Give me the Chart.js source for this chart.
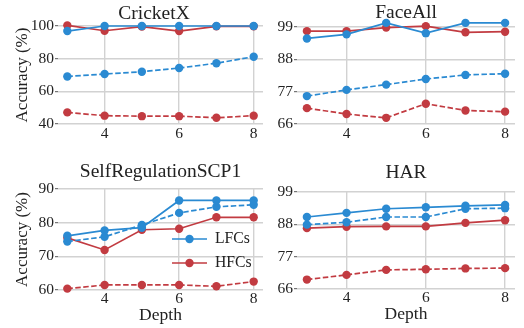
<!DOCTYPE html>
<html><head><meta charset="utf-8">
<script src="https://cdn.jsdelivr.net/npm/chart.js@4/dist/chart.umd.min.js"></script>
<style>
html,body{margin:0;padding:0;background:#fff;}
#wrap{position:relative;width:524px;height:328px;overflow:hidden;}
canvas{position:absolute;left:0;top:0;}
</style></head><body>
<div id="wrap">
<canvas id="c1" width="524" height="328"></canvas>
<canvas id="c2" width="524" height="328"></canvas>
<canvas id="c3" width="524" height="328"></canvas>
<canvas id="c4" width="524" height="328"></canvas>
</div>
<script>
// ---- data ----
const depths = [3, 4, 5, 6, 7, 8];
const xTicks = [4, 6, 8];
const panelTitles = ['CricketX', 'FaceAll', 'SelfRegulationSCP1', 'HAR'];
const seriesLabels = ['LFCs', 'HFCs'];

const cricketLFC       = [96.9, 100, 100, 100, 100, 100];
const cricketLFCdashed = [69.1, 70.6, 72.0, 74.3, 77.2, 81.2];
const cricketHFC       = [100.4, 97.1, 99.6, 96.9, 99.8, 99.8];
const cricketHFCdashed = [47.1, 45.1, 44.8, 44.8, 43.8, 45.1];
const cricketYTicks    = [40, 60, 80, 100];

const faceLFC       = [95.1, 96.5, 100.4, 96.9, 100.4, 100.4];
const faceLFCdashed = [75.5, 77.6, 79.4, 81.3, 82.7, 83.1];
const faceHFC       = [97.6, 97.6, 98.8, 99.3, 97.2, 97.4];
const faceHFCdashed = [71.4, 69.4, 68.1, 72.9, 70.6, 70.2];
const faceYTicks    = [66, 77, 88, 99];

const scpLFC       = [76.1, 77.7, 78.5, 86.6, 86.6, 86.6];
const scpLFCdashed = [74.4, 75.8, 79.3, 82.9, 84.7, 85.3];
const scpHFC       = [75.5, 71.9, 77.9, 78.2, 81.6, 81.6];
const scpHFCdashed = [60.4, 61.5, 61.5, 61.5, 61.1, 62.5];
const scpYTicks    = [60, 70, 80, 90];

const harLFC       = [90.5, 91.9, 93.3, 93.8, 94.3, 94.6];
const harLFCdashed = [87.9, 88.7, 90.5, 90.5, 93.3, 93.5];
const harHFC       = [86.7, 87.2, 87.3, 87.3, 88.5, 89.4];
const harHFCdashed = [69.2, 70.8, 72.5, 72.7, 73.0, 73.1];
const harYTicks    = [66, 77, 88, 99];

// ---- style ----
const BLUE = '#2a8ad2';
const RED = '#c23b41';
const FONT = '"Liberation Serif", "DejaVu Serif", serif';
const TXT = '#222222';
const GRID = '#d2d2d2';

function pts(vals) { return depths.map((d, i) => ({x: d, y: vals[i]})); }

function ds(label, vals, color, dashed, order) {
  return {
    label: label, data: pts(vals), borderColor: color, backgroundColor: color,
    pointBackgroundColor: color, pointBorderColor: color, pointBorderWidth: 0,
    pointRadius: 4.2, borderWidth: 1.7, borderDash: dashed ? [5.5, 2.5] : [],
    tension: 0, clip: false, order: order
  };
}

const panelText = {
  id: 'panelText',
  afterDraw(chart, args, opts) {
    const ctx = chart.ctx, a = chart.chartArea;
    ctx.save();
    ctx.fillStyle = TXT;
    ctx.font = '19.5px ' + FONT;
    ctx.textAlign = 'center';
    ctx.textBaseline = 'alphabetic';
    const tx = (opts.titleX != null) ? opts.titleX : (a.left + a.right) / 2;
    ctx.fillText(opts.title, tx, opts.titleY);
    if (opts.legend) {
      const L = opts.legend;
      L.items.forEach((it, k) => {
        const d = chart.data.datasets[it];
        const y = L.y + k * L.dy;
        ctx.strokeStyle = d.borderColor;
        ctx.lineWidth = 1.7;
        ctx.beginPath(); ctx.moveTo(L.x, y); ctx.lineTo(L.x + 35, y); ctx.stroke();
        ctx.fillStyle = d.borderColor;
        ctx.beginPath(); ctx.arc(L.x + 17.5, y, 4.2, 0, Math.PI * 2); ctx.fill();
        ctx.fillStyle = TXT;
        ctx.font = '15.7px ' + FONT;
        ctx.textAlign = 'left'; ctx.textBaseline = 'middle';
        ctx.fillText(d.label, L.x + 43, y);
      });
    }
    ctx.restore();
  }
};

function makePanel(id, cfg) {
  const datasets = [
    ds(seriesLabels[0], cfg.lfc, BLUE, false, 0),
    ds(seriesLabels[1], cfg.hfc, RED, false, 2),
    ds(seriesLabels[0] + ' (dashed)', cfg.lfcD, BLUE, true, 1),
    ds(seriesLabels[1] + ' (dashed)', cfg.hfcD, RED, true, 3)
  ];
  new Chart(document.getElementById(id), {
    type: 'line',
    data: {datasets: datasets},
    options: {
      responsive: false, animation: false, devicePixelRatio: 1,
      layout: {padding: cfg.pad},
      plugins: {
        legend: {display: false}, tooltip: {enabled: false}, title: {display: false},
        panelText: {title: cfg.title, titleX: cfg.titleX, titleY: cfg.titleY, legend: cfg.legend}
      },
      scales: {
        x: {
          type: 'linear', min: 2.75, max: 8.25,
          afterBuildTicks: s => { s.ticks = xTicks.map(v => ({value: v})); },
          afterFit: s => { s.height = cfg.xH; },
          grid: {color: GRID, lineWidth: 1.4, drawTicks: false},
          border: {display: false},
          ticks: {color: TXT, font: {family: FONT, size: 15.5}, padding: cfg.xPad, maxRotation: 0},
          title: {display: cfg.xTitle, text: 'Depth', color: TXT, font: {family: FONT, size: 17.5}, padding: {top: 0, bottom: 2}}
        },
        y: {
          type: 'linear', min: cfg.yTicks[0], max: cfg.yTicks[cfg.yTicks.length - 1],
          afterBuildTicks: s => { s.ticks = cfg.yTicks.map(v => ({value: v})); },
          afterFit: s => { s.width = cfg.yW; },
          grid: {color: GRID, lineWidth: 1.4, drawTicks: true, tickLength: 3, tickColor: '#555', tickWidth: 1},
          border: {display: false},
          ticks: {color: TXT, font: {family: FONT, size: 15.5}, padding: 1},
          title: {display: cfg.yTitle, text: 'Accuracy (%)', color: TXT, font: {family: FONT, size: 17}, padding: {top: 12, bottom: 0}}
        }
      }
    },
    plugins: [panelText]
  });
}

makePanel('c1', {title: panelTitles[0], titleX: 154, titleY: 18.5, lfc: cricketLFC, hfc: cricketHFC, lfcD: cricketLFCdashed, hfcD: cricketHFCdashed,
  yTicks: cricketYTicks, pad: {left: 0, top: 26, right: 261, bottom: 164}, yW: 58, xH: 40, xPad: 1, xTitle: false, yTitle: true});
makePanel('c2', {title: panelTitles[1], titleY: 18, lfc: faceLFC, hfc: faceHFC, lfcD: faceLFCdashed, hfcD: faceHFCdashed,
  yTicks: faceYTicks, pad: {left: 257, top: 27, right: 9, bottom: 164}, yW: 40, xH: 40, xPad: 1, xTitle: false, yTitle: false});
makePanel('c3', {title: panelTitles[2], titleY: 177, lfc: scpLFC, hfc: scpHFC, lfcD: scpLFCdashed, hfcD: scpHFCdashed,
  yTicks: scpYTicks, pad: {left: 0, top: 189, right: 261, bottom: 0}, yW: 58, xH: 38, xPad: 0, xTitle: true, yTitle: true,
  legend: {x: 172, y: 239, dy: 24, items: [0, 1]}});
makePanel('c4', {title: panelTitles[3], titleY: 178, lfc: harLFC, hfc: harHFC, lfcD: harLFCdashed, hfcD: harHFCdashed,
  yTicks: harYTicks, pad: {left: 257, top: 192, right: 9, bottom: 1}, yW: 40, xH: 38, xPad: 0, xTitle: true, yTitle: false});
</script>
</body></html>
